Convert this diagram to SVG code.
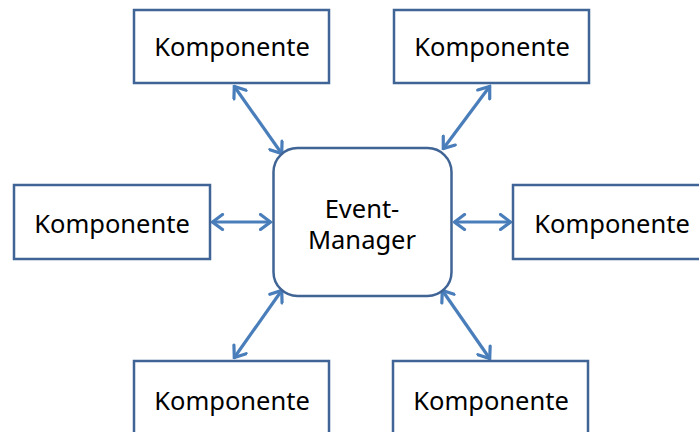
<svg xmlns="http://www.w3.org/2000/svg" width="699" height="432" viewBox="0 0 699 432">
<style>
.box{fill:#fff;stroke:#3f6495;stroke-width:2.5}
.lbl{font-family:"Noto Sans","Open Sans","Liberation Sans",sans-serif;font-size:25.5px;fill:#000;text-anchor:middle}
.con{stroke:#4a7ebb;stroke-width:3.2;fill:none;marker-start:url(#ah);marker-end:url(#ah)}
</style>
<defs>
<marker id="ah" markerUnits="userSpaceOnUse" viewBox="0 0 14 18" markerWidth="14" markerHeight="18" refX="12.5" refY="9" orient="auto-start-reverse">
<path d="M2,1.5 L12,9 L2,16.5" fill="none" stroke="#4a7ebb" stroke-width="3.2" stroke-linejoin="miter" stroke-linecap="round"/>
</marker>
</defs>
<rect width="699" height="432" fill="#fff"/>
<g id="connectors">
<line class="con" x1="234" y1="86" x2="282" y2="154"/>
<line class="con" x1="490" y1="86" x2="443" y2="149"/>
<line class="con" x1="212" y1="222" x2="271" y2="222"/>
<line class="con" x1="454" y1="222" x2="511" y2="222"/>
<line class="con" x1="282" y1="290" x2="234" y2="358"/>
<line class="con" x1="442" y1="290" x2="490" y2="359"/>
</g>
<g id="event-manager">
<rect class="box" x="273.5" y="148" width="178" height="148" rx="24" ry="24"/>
<text class="lbl" x="362" y="218">Event-</text>
<text class="lbl" x="362" y="249">Manager</text>
</g>
<g id="komp-top-left">
<rect class="box" x="134" y="10" width="195" height="73"/>
<text class="lbl" x="232" y="56">Komponente</text>
</g>
<g id="komp-top-right">
<rect class="box" x="394" y="10" width="195" height="73"/>
<text class="lbl" x="492" y="56">Komponente</text>
</g>
<g id="komp-left">
<rect class="box" x="14" y="185" width="196" height="74"/>
<text class="lbl" x="112" y="233">Komponente</text>
</g>
<g id="komp-right">
<rect class="box" x="513" y="185" width="196" height="74"/>
<text class="lbl" x="612" y="233">Komponente</text>
</g>
<g id="komp-bottom-left">
<rect class="box" x="134" y="361" width="195" height="80"/>
<text class="lbl" x="232" y="410">Komponente</text>
</g>
<g id="komp-bottom-right">
<rect class="box" x="393" y="361" width="195" height="80"/>
<text class="lbl" x="491" y="410">Komponente</text>
</g>
</svg>
